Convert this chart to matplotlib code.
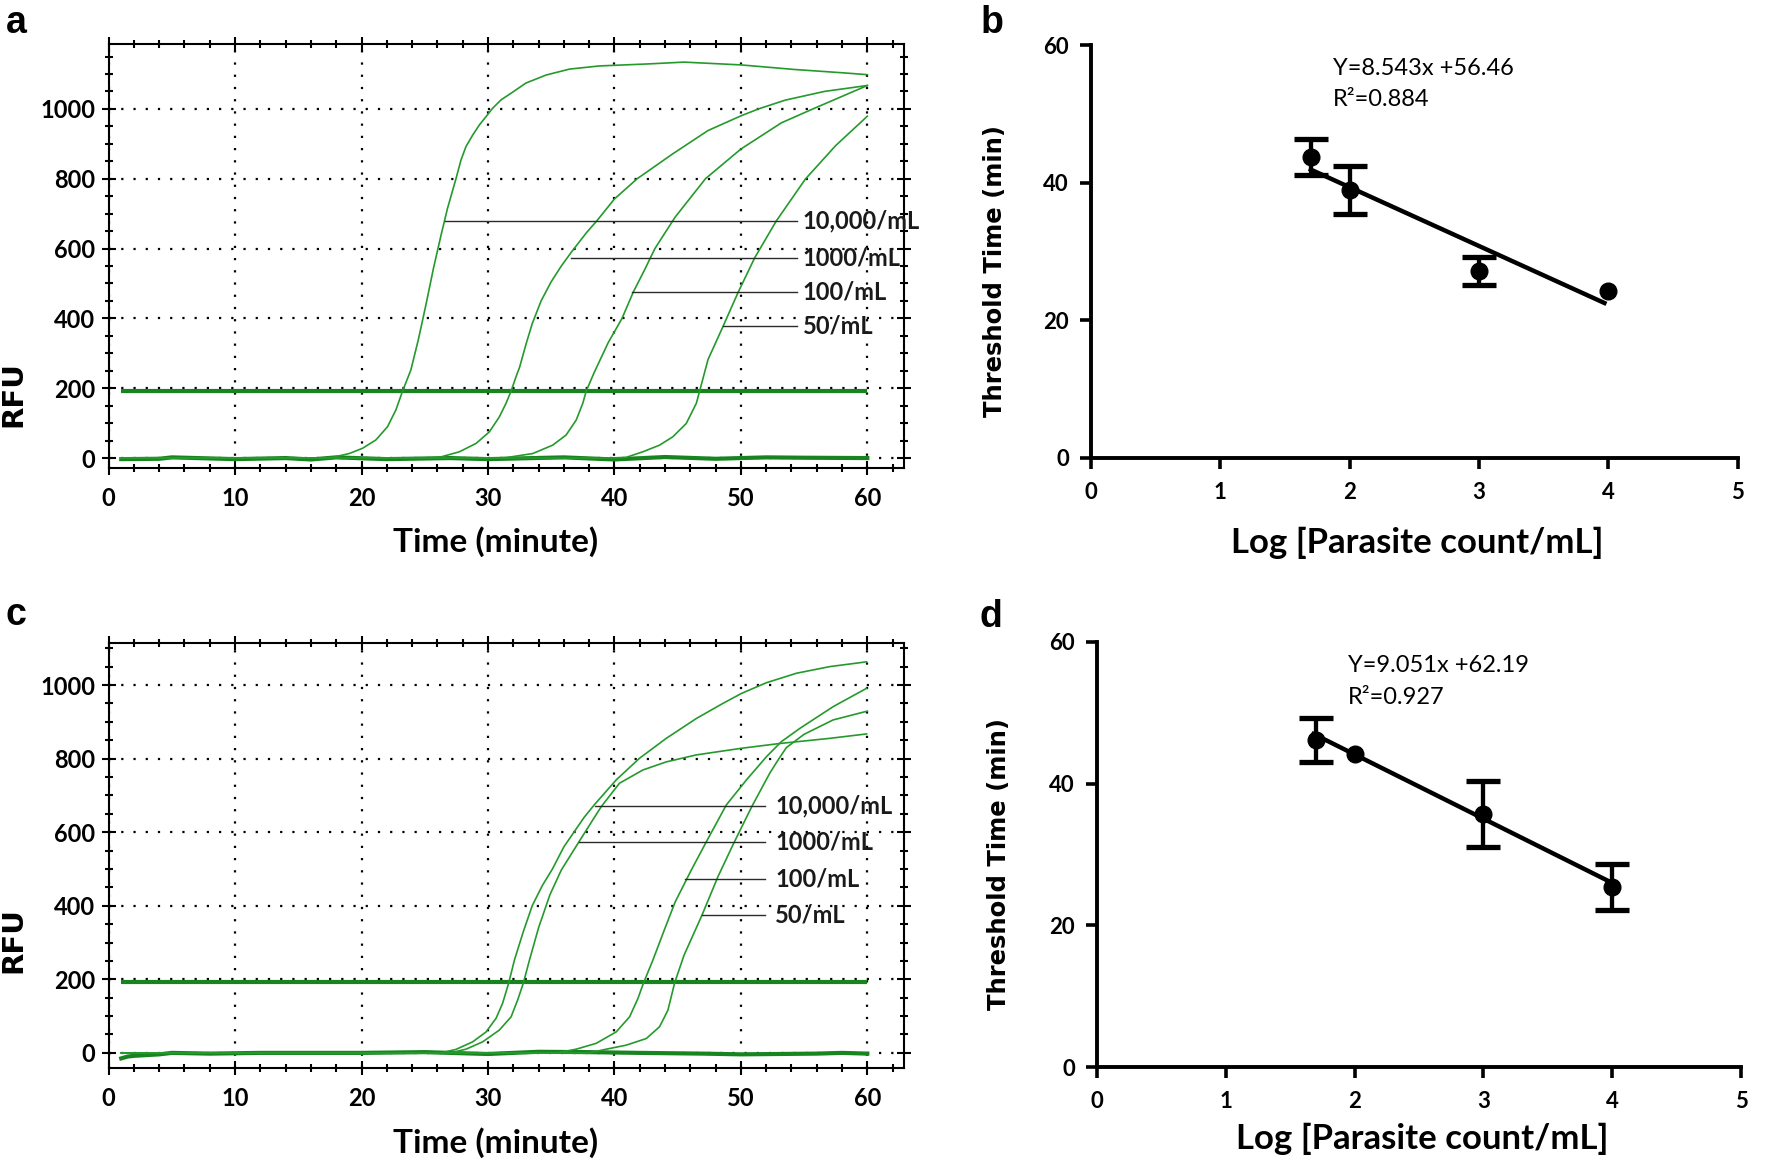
import numpy as np
import matplotlib

matplotlib.use("Agg")
import matplotlib.pyplot as plt
from matplotlib.ticker import MultipleLocator

W, H = 1772, 1167
UI = "Lato"
CURVE = "#259a2c"
THICK = "#17841f"
LEADER = "#2b2b2b"

# --- a: amplification traces, run 1 (minute, RFU) ---------------------------
A_LABELS = ["10,000/mL", "1000/mL", "100/mL", "50/mL"]
A_T_10000 = [1, 16.5, 17.7, 19.03, 20.08, 21.14, 22.06, 22.72, 23.25, 23.9, 24.5, 25.1,
             25.7, 26.3, 26.8, 27.47, 27.87, 28.26, 28.79, 29.32, 29.85, 30.37, 31.04,
             31.83, 33.0, 34.6, 36.45, 38.8, 42.8, 45.5, 50, 54.2, 58.2, 60]
A_F_10000 = [0, 0, 2, 13, 28, 52, 90, 138, 192, 252, 340, 440,
             545, 640, 715, 800, 854, 892, 925, 954, 978, 1002, 1026,
             1045, 1074, 1097, 1114, 1123, 1129, 1134, 1126, 1113, 1103, 1098]
A_T_1000 = [1, 25, 26.15, 27.74, 29.06, 30.11, 30.9, 31.43, 31.83, 32.22, 32.5, 33.0,
            33.5, 34.2, 35.0, 35.8, 36.6, 37.8, 38.6, 40, 41.8, 44.6, 47.4, 50, 51.4,
            53.5, 56.6, 60]
A_F_1000 = [0, 0, 2, 18, 42, 75, 118, 157, 192, 233, 260, 325,
            385, 450, 505, 550, 590, 646, 679, 742, 800, 871, 938, 980, 1000,
            1025, 1050, 1067]
A_T_100 = [1, 30, 31.4, 33.54, 35.12, 36.18, 36.98, 37.5, 37.77, 38.4, 39.5, 40.6,
           41.5, 42.4, 43.2, 44.8, 47.2, 50, 53.2, 55.7, 60]
A_F_100 = [0, 0, 1, 13, 37, 66, 109, 157, 192, 245, 330, 400,
           476, 540, 600, 690, 800, 885, 960, 1000, 1067]
A_T_50 = [1, 39.5, 40.93, 42.25, 43.57, 44.62, 45.68, 46.48, 46.74, 47.4, 48.6, 49.8,
          51.1, 52.8, 55.1, 57.5, 60]
A_F_50 = [0, 0, 2, 18, 37, 61, 99, 157, 192, 282, 378, 476,
          574, 679, 799, 895, 979]
A_BASE_T = [1, 4, 5, 8, 10, 14, 16, 18, 22, 27, 30, 36, 40, 44, 48, 52, 55, 60]
A_BASE_F = [-3, -2, 2, -1, -3, 0, -4, 2, -3, 0, -3, 2, -4, 3, -2, 2, 1, 0]
A_THRESHOLD = 192
A_LABEL_RFU = [679, 572, 477, 378]
A_LEADER_FROM = [26.6, 36.6, 41.4, 48.6]

# --- c: amplification traces, run 2 ------------------------------------------
C_LABELS = ["10,000/mL", "1000/mL", "100/mL", "50/mL"]
C_T_10000 = [1, 26.3, 27.47, 28.79, 29.85, 30.64, 31.16, 31.64, 32.09, 32.8, 33.5, 34.3,
             35.1, 36.0, 36.8, 37.6, 38.4, 40.14, 41.99, 44.1, 46.48, 48.58, 50.04,
             52.0, 54.4, 57.03, 59.94]
C_F_10000 = [0, 0, 9.5, 30, 57, 94, 135, 190, 252, 330, 400, 455,
             500, 560, 600, 640, 674, 742, 801, 855, 909, 950, 977,
             1006, 1032, 1050, 1063]
C_T_1000 = [1, 27, 28.26, 29.58, 30.9, 31.83, 32.35, 32.8, 33.28, 34.0, 34.9, 35.8,
            37.2, 38.95, 40.4, 42.25, 44.1, 46.48, 50.04, 53.07, 57.03, 59.94]
C_F_1000 = [0, 0, 10, 30, 62, 98, 144, 190, 252, 340, 430, 497,
            574, 669, 733, 769, 791, 810, 828, 841, 855, 867]
C_T_100 = [1, 35.5, 36.97, 38.56, 40.14, 41.2, 41.86, 42.3, 43.04, 43.9, 44.8, 46.08,
           47.27, 48.85, 50.44, 52.02, 53.2, 54.66, 57.29, 59.94]
C_F_100 = [0, 0, 10, 26, 57, 98, 148, 190, 252, 330, 410, 497,
           574, 674, 742, 805, 846, 882, 941, 991]
C_T_50 = [1, 38, 39.35, 40.93, 42.52, 43.57, 44.23, 44.76, 45.5, 46.92, 48.2, 49.45,
          50.87, 52.28, 52.92, 53.6, 55.0, 57.29, 60]
C_F_50 = [0, 0, 10, 21, 39, 71, 116, 190, 265, 374, 480, 571,
          670, 760, 795, 830, 866, 905, 929]
C_BASE_T = [1, 1.5, 2, 3, 4, 5, 8, 12, 20, 25, 30, 34, 38, 42, 47, 50, 53, 56, 58, 60]
C_BASE_F = [-15, -10, -8, -6, -4, 0, -2, 0, 0, 2, -3, 3, 2, 0, -2, -4, -3, -2, 0, -2]
C_THRESHOLD = 192
C_LABEL_RFU = [670, 573, 474, 374]
C_LEADER_FROM = [38.5, 37.2, 45.6, 46.9]

# --- b / d: threshold time vs log parasite count -----------------------------
LOG_COUNT = [1.699, 2, 3, 4]
B_TIME = [43.8, 39.0, 27.2, 24.3]
B_ERR = [2.6, 3.5, 2.0, 0]
B_SLOPE, B_INTERCEPT, B_R2 = -8.543, 56.46, 0.884
B_FIT_RANGE = [1.7, 3.97]
D_TIME = [46.2, 44.1, 35.7, 25.4]
D_ERR = [3.1, 0, 4.6, 3.2]
D_SLOPE, D_INTERCEPT, D_R2 = -9.051, 62.19, 0.927
D_FIT_RANGE = [1.68, 4.0]


def axes_px(fig, left, top, right, bottom):
    return fig.add_axes([left / W, 1 - bottom / H, (right - left) / W, (bottom - top) / H])


def bold_ticks(ax):
    for lab in ax.get_xticklabels() + ax.get_yticklabels():
        lab.set_fontfamily(UI)
        lab.set_fontweight("bold")


def rfu_panel(ax, curves, base_t, base_f, thr, labels, label_y, leader_from,
              leader_to, text_x, ylim, rfu_y, xlab_y):
    for t, f in curves:
        ax.plot(t, f, color=CURVE, lw=1.2, zorder=3)
    ax.plot(base_t, base_f, color=THICK, lw=3, zorder=2)
    ax.hlines(thr, 1, 60, color=THICK, lw=3, zorder=2)
    for lab, y, x0 in zip(labels, label_y, leader_from):
        ax.plot([x0, leader_to], [y, y], color=LEADER, lw=1.0, zorder=4)
        ax.text(text_x, y, lab, fontfamily=UI, fontweight="bold", fontsize=17,
                va="center", ha="left", color="#1a1a1a")

    ax.set_xlim(0, 62.9)
    ax.set_ylim(*ylim)
    ax.xaxis.set_major_locator(MultipleLocator(10))
    ax.xaxis.set_minor_locator(MultipleLocator(2))
    ax.yaxis.set_major_locator(MultipleLocator(200))
    ax.yaxis.set_minor_locator(MultipleLocator(50))
    ax.tick_params(which="both", direction="inout", top=True, right=True, width=1.5,
                   labelsize=17)
    ax.tick_params(which="major", length=9.4)
    ax.tick_params(which="minor", length=6)
    ax.tick_params(axis="x", pad=9)
    ax.tick_params(axis="y", pad=5)
    ax.grid(True, which="major", color="k", ls=(0, (1, 4.5)), lw=1.6)
    for s in ax.spines.values():
        s.set_linewidth(1.5)
    bold_ticks(ax)

    ax.set_xlabel("Time (minute)", fontfamily=UI, fontweight="bold", fontsize=24)
    ax.xaxis.label.set_va("center")
    ax.xaxis.set_label_coords(0.487, xlab_y)
    ax.set_ylabel("RFU", fontfamily="DejaVu Sans", fontweight="bold", fontsize=21)
    ax.yaxis.label.set_va("center")
    ax.yaxis.set_label_coords(-0.12, rfu_y)


def fit_panel(ax, y, err, slope, intercept, r2, fit_range, text_x, ylab_pos, xlab_y):
    xs = np.array(fit_range)
    ax.plot(xs, slope * xs + intercept, color="k", lw=3.2, zorder=3)
    keep = [i for i, e in enumerate(err) if e > 0]
    ax.errorbar([LOG_COUNT[i] for i in keep], [y[i] for i in keep],
                yerr=[err[i] for i in keep], fmt="none", ecolor="k",
                elinewidth=3.1, capsize=12.5, capthick=3.8, zorder=4)
    ax.plot(LOG_COUNT, y, "o", color="k", ms=12, zorder=5)
    ax.text(text_x, 56.6, f"Y={abs(slope)}x +{intercept}", fontfamily=UI,
            fontsize=17, va="center", ha="left")
    ax.text(text_x, 52.1, f"R\u00b2={r2}", fontfamily=UI, fontsize=17,
            va="center", ha="left")

    ax.set_xlim(0, 5)
    ax.set_ylim(0, 60)
    ax.set_xticks(range(6))
    ax.set_yticks([0, 20, 40, 60])
    for side in ("top", "right"):
        ax.spines[side].set_visible(False)
    for side in ("left", "bottom"):
        ax.spines[side].set_linewidth(2.8)
    ax.tick_params(direction="out", length=8, width=2.6, labelsize=16)
    ax.tick_params(axis="x", pad=9)
    ax.tick_params(axis="y", pad=8)
    bold_ticks(ax)

    ax.set_xlabel("Log [Parasite count/mL]", fontfamily=UI, fontweight="bold",
                  fontsize=25)
    ax.xaxis.label.set_va("center")
    ax.xaxis.set_label_coords(0.505, xlab_y)
    ax.set_ylabel("Threshold Time (min)", fontfamily="DejaVu Sans",
                  fontweight="bold", fontsize=17.5)
    ax.yaxis.label.set_va("center")
    ax.yaxis.set_label_coords(*ylab_pos)


fig = plt.figure(figsize=(W / 100, H / 100), dpi=100)

ax_a = axes_px(fig, 108.6, 44.3, 904, 468.2)
rfu_panel(ax_a,
          [(A_T_10000, A_F_10000), (A_T_1000, A_F_1000), (A_T_100, A_F_100), (A_T_50, A_F_50)],
          A_BASE_T, A_BASE_F, A_THRESHOLD, A_LABELS, A_LABEL_RFU, A_LEADER_FROM,
          54.4, 54.9, (-29, 1185), 0.175, -0.174)

ax_c = axes_px(fig, 108.6, 642.7, 904, 1067.6)
rfu_panel(ax_c,
          [(C_T_10000, C_F_10000), (C_T_1000, C_F_1000), (C_T_100, C_F_100), (C_T_50, C_F_50)],
          C_BASE_T, C_BASE_F, C_THRESHOLD, C_LABELS, C_LABEL_RFU, C_LEADER_FROM,
          51.9, 52.7, (-40, 1115), 0.300, -0.176)

ax_b = axes_px(fig, 1091, 45.4, 1737.6, 458)
fit_panel(ax_b, B_TIME, B_ERR, B_SLOPE, B_INTERCEPT, B_R2, B_FIT_RANGE, 1.87,
          (-0.148, 0.453), -0.206)

ax_d = axes_px(fig, 1097.2, 641.6, 1741, 1067.3)
fit_panel(ax_d, D_TIME, D_ERR, D_SLOPE, D_INTERCEPT, D_R2, D_FIT_RANGE, 1.95,
          (-0.153, 0.478), -0.168)

for letter, x, y in [("a", 16, 33), ("b", 992, 33), ("c", 16, 625), ("d", 991, 627)]:
    fig.text(x / W, 1 - y / H, letter, fontfamily="Liberation Sans", fontweight="bold",
             fontsize=27, ha="center", va="baseline")

fig.savefig("out.png", dpi=100)
